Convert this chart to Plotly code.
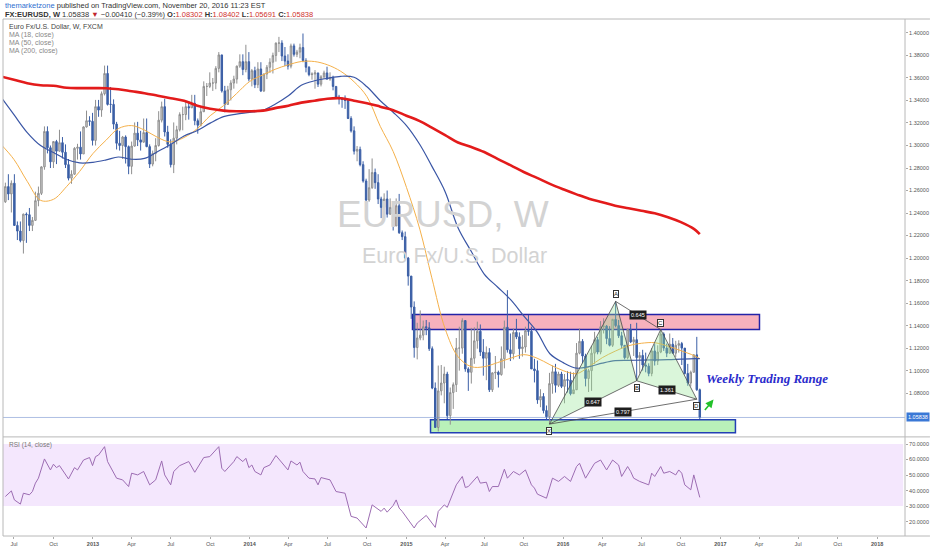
"""
EURUSD weekly chart (TradingView style) with MA(18/50/200), RSI(14),
range boxes and a harmonic XABCD pattern.
"""
import pandas as pd
import plotly.graph_objects as go

# ---------------------------------------------------------------- data
# weekly bars, week starting on Monday
bar_start = "2012-06-11"
bar_count = 232
first_open = 1.2500

closes = [
    # 2012
    1.2635, 1.2570, 1.2665, 1.2290, 1.2240, 1.2155, 1.2390, 1.2385, 1.2290, 1.2335,
    1.2510, 1.2575, 1.2810, 1.3125, 1.2980, 1.2855, 1.3035, 1.2950, 1.3025, 1.2940,
    1.2830, 1.2710, 1.2745, 1.2975, 1.2985, 1.2925, 1.3165, 1.3220, 1.3215, 1.3045,
    # 2013
    1.3345, 1.3315, 1.3460, 1.3640, 1.3365, 1.3365, 1.3190, 1.3020, 1.3000, 1.3075,
    1.2990, 1.2815, 1.2995, 1.3110, 1.3050, 1.3030, 1.3115, 1.2990, 1.2835, 1.2930,
    1.3000, 1.3225, 1.3345, 1.3120, 1.3010, 1.2830, 1.3065, 1.3140, 1.3275, 1.3275,
    1.3345, 1.3335, 1.3375, 1.3220, 1.3180, 1.3300, 1.3525, 1.3525, 1.3555, 1.3555,
    1.3685, 1.3805, 1.3485, 1.3365, 1.3495, 1.3555, 1.3590, 1.3705, 1.3745, 1.3675,
    1.3745, 1.3590,
    # 2014
    1.3665, 1.3540, 1.3680, 1.3485, 1.3635, 1.3695, 1.3740, 1.3800, 1.3910, 1.3910,
    1.3795, 1.3750, 1.3705, 1.3885, 1.3810, 1.3830, 1.3870, 1.3755, 1.3695, 1.3630,
    1.3635, 1.3645, 1.3545, 1.3610, 1.3645, 1.3590, 1.3605, 1.3525, 1.3430, 1.3415,
    1.3410, 1.3400, 1.3240, 1.3130, 1.2950, 1.2965, 1.2830, 1.2685, 1.2515, 1.2625,
    1.2760, 1.2670, 1.2525, 1.2450, 1.2525, 1.2390, 1.2450, 1.2285, 1.2465, 1.2225,
    1.2190, 1.2000,
    # 2015
    1.1840, 1.1565, 1.1205, 1.1290, 1.1315, 1.1390, 1.1380, 1.1195, 1.0845, 1.0495,
    1.0820, 1.0890, 1.0970, 1.0600, 1.0805, 1.0875, 1.1200, 1.1200, 1.1445, 1.1015,
    1.0985, 1.1110, 1.1265, 1.1350, 1.1165, 1.1110, 1.1160, 1.0830, 1.0980, 1.0985,
    1.0965, 1.1105, 1.1385, 1.1185, 1.1150, 1.1340, 1.1300, 1.1195, 1.1210, 1.1355,
    1.1350, 1.1015, 1.1000, 1.0740, 1.0770, 1.0645, 1.0590, 1.0885, 1.0990, 1.0870,
    1.0970, 1.0860,
    # 2016
    1.0920, 1.0915, 1.0795, 1.0830, 1.1155, 1.1260, 1.1130, 1.0930, 1.1000, 1.1155,
    1.1275, 1.1165, 1.1390, 1.1395, 1.1285, 1.1225, 1.1455, 1.1400, 1.1310, 1.1225,
    1.1115, 1.1365, 1.1255, 1.1275, 1.1115, 1.1135, 1.1050, 1.1040, 1.0975, 1.1175,
    1.1085, 1.1165, 1.1325, 1.1200, 1.1155, 1.1235, 1.1155, 1.1225, 1.1240, 1.1200,
    1.0975, 1.0890, 1.0985, 1.1140, 1.0830, 1.05838,
]

highs = [
    # 2012
    1.2670, 1.2745, 1.2690, 1.2745, 1.2325, 1.2325, 1.2395, 1.2405, 1.2445, 1.2365,
    1.2590, 1.2635, 1.2815, 1.3170, 1.3170, 1.3000, 1.3040, 1.3050, 1.3140, 1.3075,
    1.3010, 1.2880, 1.2780, 1.2985, 1.3015, 1.3125, 1.3170, 1.3310, 1.3260, 1.3290,
    # 2013
    1.3405, 1.3405, 1.3480, 1.3710, 1.3710, 1.3520, 1.3410, 1.3210, 1.3130, 1.3085,
    1.3090, 1.3000, 1.3035, 1.3205, 1.3210, 1.3130, 1.3240, 1.3240, 1.3010, 1.2955,
    1.3065, 1.3305, 1.3390, 1.3415, 1.3175, 1.3055, 1.3205, 1.3175, 1.3295, 1.3345,
    1.3400, 1.3395, 1.3450, 1.3450, 1.3240, 1.3350, 1.3570, 1.3555, 1.3650, 1.3600,
    1.3705, 1.3830, 1.3805, 1.3530, 1.3530, 1.3580, 1.3620, 1.3710, 1.3810, 1.3810,
    1.3895, 1.3830,
    # 2014
    1.3680, 1.3700, 1.3740, 1.3740, 1.3640, 1.3715, 1.3775, 1.3825, 1.3915, 1.3965,
    1.3935, 1.3875, 1.3810, 1.3905, 1.3905, 1.3850, 1.3905, 1.3995, 1.3775, 1.3705,
    1.3650, 1.3670, 1.3645, 1.3625, 1.3665, 1.3700, 1.3650, 1.3620, 1.3525, 1.3450,
    1.3430, 1.3445, 1.3410, 1.3260, 1.3170, 1.2995, 1.2990, 1.2860, 1.2705, 1.2790,
    1.2885, 1.2795, 1.2745, 1.2545, 1.2575, 1.2600, 1.2530, 1.2455, 1.2530, 1.2570,
    1.2245, 1.2235,
    # 2015
    1.2010, 1.1840, 1.1615, 1.1425, 1.1535, 1.1445, 1.1450, 1.1430, 1.1215, 1.0895,
    1.1045, 1.1050, 1.1035, 1.0990, 1.0850, 1.0895, 1.1290, 1.1390, 1.1465, 1.1445,
    1.1030, 1.1380, 1.1385, 1.1435, 1.1410, 1.1280, 1.1215, 1.1200, 1.0985, 1.1130,
    1.1000, 1.1215, 1.1445, 1.1715, 1.1330, 1.1375, 1.1460, 1.1340, 1.1315, 1.1390,
    1.1495, 1.1390, 1.1105, 1.1090, 1.0835, 1.0800, 1.0690, 1.0980, 1.1045, 1.1060,
    1.0990, 1.0990,
    # 2016
    1.0970, 1.0995, 1.0990, 1.0985, 1.1245, 1.1375, 1.1280, 1.1150, 1.1015, 1.1220,
    1.1345, 1.1300, 1.1440, 1.1465, 1.1405, 1.1395, 1.1460, 1.1615, 1.1450, 1.1345,
    1.1225, 1.1375, 1.1415, 1.1300, 1.1425, 1.1165, 1.1185, 1.1160, 1.1065, 1.1200,
    1.1235, 1.1225, 1.1365, 1.1340, 1.1240, 1.1330, 1.1290, 1.1265, 1.1270, 1.1255,
    1.1200, 1.1060, 1.1000, 1.1145, 1.1300, 1.08402,
]

lows = [
    # 2012
    1.2490, 1.2515, 1.2405, 1.2285, 1.2160, 1.2140, 1.2040, 1.2135, 1.2240, 1.2240,
    1.2330, 1.2460, 1.2560, 1.2785, 1.2930, 1.2800, 1.2800, 1.2835, 1.2945, 1.2885,
    1.2800, 1.2690, 1.2660, 1.2740, 1.2875, 1.2875, 1.2925, 1.3160, 1.3175, 1.3000,
    # 2013
    1.3000, 1.3255, 1.3255, 1.3445, 1.3355, 1.3290, 1.3145, 1.2965, 1.2955, 1.2880,
    1.2840, 1.2745, 1.2745, 1.2990, 1.2995, 1.2955, 1.3025, 1.2985, 1.2800, 1.2815,
    1.2860, 1.2990, 1.3205, 1.3080, 1.2980, 1.2805, 1.2755, 1.3010, 1.3125, 1.3135,
    1.3225, 1.3230, 1.3335, 1.3180, 1.3105, 1.3170, 1.3300, 1.3440, 1.3510, 1.3485,
    1.3500, 1.3650, 1.3470, 1.3295, 1.3360, 1.3400, 1.3505, 1.3550, 1.3690, 1.3625,
    1.3650, 1.3570,
    # 2014
    1.3525, 1.3510, 1.3510, 1.3475, 1.3475, 1.3590, 1.3645, 1.3640, 1.3745, 1.3830,
    1.3750, 1.3705, 1.3675, 1.3685, 1.3790, 1.3785, 1.3775, 1.3740, 1.3650, 1.3615,
    1.3585, 1.3505, 1.3520, 1.3525, 1.3590, 1.3585, 1.3575, 1.3490, 1.3420, 1.3365,
    1.3335, 1.3325, 1.3235, 1.3115, 1.2920, 1.2860, 1.2815, 1.2670, 1.2500, 1.2500,
    1.2615, 1.2615, 1.2480, 1.2355, 1.2395, 1.2360, 1.2385, 1.2245, 1.2285, 1.2215,
    1.2160, 1.1995,
    # 2015
    1.1755, 1.1460, 1.1115, 1.1100, 1.1270, 1.1270, 1.1315, 1.1175, 1.0835, 1.0495,
    1.0460, 1.0780, 1.0710, 1.0570, 1.0520, 1.0660, 1.0810, 1.1000, 1.1150, 1.0990,
    1.0820, 1.0885, 1.1060, 1.1195, 1.1130, 1.0955, 1.0915, 1.0810, 1.0810, 1.0925,
    1.0850, 1.0955, 1.1020, 1.1160, 1.1085, 1.1100, 1.1280, 1.1105, 1.1125, 1.1160,
    1.1310, 1.1015, 1.0895, 1.0705, 1.0675, 1.0620, 1.0565, 1.0525, 1.0795, 1.0805,
    1.0855, 1.0845,
    # 2016
    1.0710, 1.0805, 1.0780, 1.0810, 1.0835, 1.1145, 1.1065, 1.0860, 1.0810, 1.0820,
    1.1060, 1.1145, 1.1145, 1.1330, 1.1235, 1.1215, 1.1210, 1.1385, 1.1290, 1.1195,
    1.1100, 1.1100, 1.1245, 1.1130, 1.0910, 1.0975, 1.1000, 1.0985, 1.0950, 1.0950,
    1.1045, 1.1050, 1.1155, 1.1175, 1.1120, 1.1150, 1.1150, 1.1120, 1.1160, 1.1050,
    1.0965, 1.0865, 1.0860, 1.0985, 1.0820, 1.05691,
]

# moving averages, one value per month
ma_dates = [
    "2012-06-01", "2012-07-01", "2012-08-01", "2012-09-01", "2012-10-01", "2012-11-01", "2012-12-01",
    "2013-01-01", "2013-02-01", "2013-03-01", "2013-04-01", "2013-05-01", "2013-06-01",
    "2013-07-01", "2013-08-01", "2013-09-01", "2013-10-01", "2013-11-01", "2013-12-01",
    "2014-01-01", "2014-02-01", "2014-03-01", "2014-04-01", "2014-05-01", "2014-06-01",
    "2014-07-01", "2014-08-01", "2014-09-01", "2014-10-01", "2014-11-01", "2014-12-01",
    "2015-01-01", "2015-02-01", "2015-03-01", "2015-04-01", "2015-05-01", "2015-06-01",
    "2015-07-01", "2015-08-01", "2015-09-01", "2015-10-01", "2015-11-01", "2015-12-01",
    "2016-01-01", "2016-02-01", "2016-03-01", "2016-04-01", "2016-05-01", "2016-06-01",
    "2016-07-01", "2016-08-01", "2016-09-01", "2016-10-01", "2016-11-01", "2016-11-14",
]
ma18 = [
    1.3009, 1.2876, 1.2681, 1.2513, 1.2522, 1.2637, 1.2770,
    1.2929, 1.3049, 1.3150, 1.3177, 1.3137, 1.3071, 1.3031, 1.3071, 1.3150, 1.3265, 1.3354, 1.3460,
    1.3569, 1.3628, 1.3677, 1.3717, 1.3746, 1.3746, 1.3717, 1.3659, 1.3566, 1.3434, 1.3170, 1.2947,
    1.2628, 1.2257, 1.1825, 1.1372, 1.1124, 1.1035, 1.1035, 1.1071, 1.1111, 1.1142, 1.1111, 1.1053,
    1.1000, 1.0973, 1.1035, 1.1115, 1.1173, 1.1221, 1.1243, 1.1248, 1.1217, 1.1177, 1.1133,
    1.1106,
]
ma50 = [
    1.3429, 1.3274, 1.3115, 1.3000, 1.2938, 1.2876, 1.2845,
    1.2850, 1.2872, 1.2898, 1.2878, 1.2885, 1.2947, 1.3009, 1.3084, 1.3133, 1.3199, 1.3257, 1.3279,
    1.3295, 1.3314, 1.3367, 1.3442, 1.3535, 1.3575, 1.3597, 1.3615, 1.3606, 1.3522, 1.3398, 1.3296,
    1.3177, 1.3009, 1.2817, 1.2590, 1.2270, 1.2058, 1.1858, 1.1743, 1.1628, 1.1487, 1.1345, 1.1150,
    1.1071, 1.1022, 1.1035, 1.1066, 1.1088, 1.1091, 1.1093, 1.1096, 1.1097, 1.1102, 1.1106,
    1.1106,
]
ma200 = [
    1.3613, 1.3584, 1.3553, 1.3535, 1.3531, 1.3513, 1.3510,
    1.3510, 1.3509, 1.3500, 1.3482, 1.3465, 1.3442, 1.3420, 1.3398, 1.3354, 1.3327, 1.3310, 1.3304,
    1.3304, 1.3310, 1.3332, 1.3354, 1.3381, 1.3398, 1.3416, 1.3420, 1.3398, 1.3376, 1.3345, 1.3314,
    1.3265, 1.3217, 1.3159, 1.3093, 1.3027, 1.2987, 1.2942, 1.2881, 1.2823, 1.2765, 1.2712, 1.2659,
    1.2611, 1.2566, 1.2527, 1.2496, 1.2465, 1.2442, 1.2420, 1.2398, 1.2363, 1.2319, 1.2257,
    1.2212,
]

# RSI(14) readings: bar index and value
rsi_week = [
    0, 1, 2, 3, 5, 6, 8, 9, 10, 11, 13, 15, 16, 17, 18, 21, 23, 24, 26, 28,
    29, 30, 31, 33, 34, 37, 39, 41, 42, 44, 46, 48, 50, 52, 53, 55, 56, 58, 61, 63,
    66, 68, 69, 71, 72, 73, 76, 77, 79, 80, 81, 82, 83, 85, 86, 88, 90, 93, 94, 95,
    97, 98, 99, 101, 103, 104, 105, 108, 110, 113, 115, 117, 120, 122, 125, 126, 127, 129, 130, 131,
    132, 136, 137, 140, 143, 144, 146, 147, 148, 150, 152, 153, 154, 155, 157, 158, 160, 161, 162, 164,
    166, 167, 169, 171, 173, 175, 176, 177, 180, 182, 184, 186, 188, 190, 191, 193, 195, 196, 198, 200,
    202, 204, 205, 207, 208, 209, 211, 214, 215, 216, 218, 219, 221, 223, 224, 225, 226, 228, 229, 231,
]
rsi_value = [
    36.2, 38.3, 39.8, 34.0, 31.3, 38.3, 37.3, 39.4, 44.8, 48.0, 60.4, 53.3, 57.0, 54.8, 56.1, 47.5, 54.8, 53.3, 59.7, 61.3,
    56.1, 61.9, 62.9, 68.3, 58.7, 48.0, 46.9, 42.6, 51.2, 50.1, 52.3, 43.7, 46.9, 59.1, 50.1, 43.7, 52.3, 56.1, 58.7, 51.8,
    61.3, 61.9, 64.0, 68.3, 54.4, 52.3, 58.7, 61.9, 58.7, 60.8, 54.8, 56.5, 52.3, 50.1, 54.8, 56.5, 62.6, 55.5, 53.3, 59.1,
    56.5, 58.3, 52.3, 48.0, 47.5, 43.7, 48.4, 46.9, 39.4, 38.3, 23.4, 22.3, 15.9, 30.8, 26.6, 28.7, 26.1, 30.4, 34.0, 28.7,
    26.6, 15.9, 19.1, 24.0, 16.3, 26.6, 30.8, 29.2, 34.0, 43.7, 49.1, 42.0, 42.6, 44.8, 49.1, 44.8, 45.4, 39.4, 42.6, 42.6,
    53.8, 48.0, 52.3, 50.1, 53.3, 43.7, 41.6, 37.7, 35.1, 48.0, 45.9, 49.1, 45.9, 55.5, 57.6, 48.0, 54.4, 57.6, 59.7, 53.3,
    59.7, 56.5, 49.1, 55.5, 52.3, 48.0, 45.9, 43.7, 51.2, 49.1, 55.5, 51.2, 52.3, 50.1, 53.3, 51.2, 43.7, 40.5, 50.1, 35.6,
]

# harmonic pattern pivots
pattern_names = ["X", "A", "B", "C", "D"]
pattern_dates = ["2015-11-30", "2016-05-02", "2016-06-20", "2016-08-15", "2016-11-07"]
pattern_prices = [1.0525, 1.1615, 1.0910, 1.1365, 1.0746]
pattern_ratios = {("X", "B"): "0.647", ("A", "C"): "0.645",
                  ("B", "D"): "1.361", ("X", "D"): "0.797"}

last_price = 1.05838
price_ticks = [1.08, 1.10, 1.12, 1.14, 1.16, 1.18, 1.20, 1.22, 1.24, 1.26,
               1.28, 1.30, 1.32, 1.34, 1.36, 1.38, 1.40]
rsi_ticks = [20, 30, 40, 50, 60, 70]
month_labels = ["Jul", "Oct",
                "2013", "Apr", "Jul", "Oct", "2014", "Apr", "Jul", "Oct",
                "2015", "Apr", "Jul", "Oct", "2016", "Apr", "Jul", "Oct",
                "2017", "Apr", "Jul", "Oct", "2018"]

FONT = "Liberation Sans, Arial, sans-serif"


def build_figure():
    """ Builds the two pane (price + RSI) chart. """
    dates = pd.date_range(bar_start, periods=bar_count, freq="W-MON")
    opens = [first_open] + closes[:-1]
    fig = go.Figure()

    # candles
    fig.add_trace(go.Candlestick(
        x=dates, open=opens, high=highs, low=lows, close=closes,
        increasing=dict(line=dict(color="#8f8f8f", width=1), fillcolor="#d4d4d4"),
        decreasing=dict(line=dict(color="#3b5fa6", width=1), fillcolor="#3b5fa6"),
        whiskerwidth=0, showlegend=False, hoverinfo="skip",
        xaxis="x", yaxis="y"))

    # moving averages
    for vals, color, width in ((ma18, "#f4b04a", 1), (ma50, "#3a56a5", 1.2),
                               (ma200, "#e31b1b", 2.6)):
        fig.add_trace(go.Scatter(x=ma_dates, y=vals, mode="lines",
                                 line=dict(color=color, width=width, shape="spline"),
                                 showlegend=False, hoverinfo="skip",
                                 xaxis="x", yaxis="y"))

    # harmonic pattern
    pts = {n: (pd.Timestamp(d), p) for n, d, p in zip(pattern_names, pattern_dates, pattern_prices)}
    for tri in (("X", "A", "B"), ("B", "C", "D")):
        fig.add_trace(go.Scatter(
            x=[pts[n][0] for n in tri + (tri[0],)], y=[pts[n][1] for n in tri + (tri[0],)],
            mode="lines", fill="toself", fillcolor="rgba(150,230,150,0.35)",
            line=dict(color="#4a4a4a", width=0.8), showlegend=False, hoverinfo="skip",
            xaxis="x", yaxis="y"))
    for a, b in (("A", "C"), ("X", "D")):
        fig.add_trace(go.Scatter(
            x=[pts[a][0], pts[b][0]], y=[pts[a][1], pts[b][1]], mode="lines",
            line=dict(color="#4a4a4a", width=0.8), showlegend=False, hoverinfo="skip",
            xaxis="x", yaxis="y"))

    # RSI
    fig.add_trace(go.Scatter(
        x=[dates[k] for k in rsi_week], y=rsi_value, mode="lines",
        line=dict(color="#9c6cb2", width=1), showlegend=False, hoverinfo="skip",
        xaxis="x2", yaxis="y2"))

    shapes = [
        # RSI 30-70 band
        dict(type="rect", xref="paper", yref="y2", x0=0, x1=0.998, y0=30, y1=70,
             fillcolor="#f4e7fd", line=dict(width=0), layer="below"),
        # resistance and support zones
        dict(type="rect", xref="x", yref="y", x0="2015-01-15", x1="2017-04-02",
             y0=1.1366, y1=1.1498, fillcolor="#f7b1bd",
             line=dict(color="#2323a8", width=1.5), layer="below"),
        dict(type="rect", xref="x", yref="y", x0="2015-02-26", x1="2017-02-05",
             y0=1.0449, y1=1.0564, fillcolor="#b9f1b9",
             line=dict(color="#2340b4", width=1.5), layer="below"),
        # last price line
        dict(type="line", xref="paper", yref="y", x0=0, x1=1, y0=last_price, y1=last_price,
             line=dict(color="rgba(110,140,205,0.55)", width=1)),
    ]
    # pane frames
    frame = dict(color="#b8b8b8", width=1)
    right = 1 + 25 / 904
    shapes += [
        dict(type="line", xref="paper", yref="paper", x0=0, x1=right, y0=1, y1=1, line=frame),
        dict(type="line", xref="paper", yref="paper", x0=0, x1=right, y0=0, y1=0, line=frame),
        dict(type="line", xref="paper", yref="paper", x0=0, x1=right, y0=0.1917, y1=0.1917, line=frame),
        dict(type="line", xref="paper", yref="paper", x0=0, x1=0, y0=0, y1=1, line=frame),
        dict(type="line", xref="paper", yref="paper", x0=1, x1=1, y0=0, y1=1, line=frame),
    ]

    annotations = []

    def note(text, x, y, size=7, color="#444", xanchor="left", **kw):
        annotations.append(dict(text=text, x=x, y=y, xref=kw.pop("xref", "paper"),
                                yref=kw.pop("yref", "paper"), showarrow=False,
                                xanchor=xanchor, yanchor=kw.pop("yanchor", "middle"),
                                font=dict(family=kw.pop("family", FONT), size=size, color=color),
                                **kw))

    # header
    note("<span style='color:#2f6fd0'>themarketzone</span> published on TradingView.com, "
         "November 20, 2016 11:23 EST", 0.0, 1.027, size=7.5, color="#333")
    note("<b>FX:EURUSD, W</b> 1.05838 <span style='color:#c0262d'>▼</span> "
         "−0.00410 (−0.39%) <b>O:</b><span style='color:#d0312d'>1.08302</span> "
         "<b>H:</b><span style='color:#d0312d'>1.08402</span> "
         "<b>L:</b><span style='color:#d0312d'>1.05691</span> "
         "<b>C:</b><span style='color:#d0312d'>1.05838</span>",
         0.0, 1.0096, size=7.5, color="#333")

    # pane legends
    note("Euro Fx/U.S. Dollar, W, FXCM", 0.004, 0.9846, size=7, color="#444")
    note("MA (18, close)", 0.004, 0.9692, size=7, color="#888")
    note("MA (50, close)", 0.004, 0.9538, size=7, color="#888")
    note("MA (200, close)", 0.004, 0.9390, size=7, color="#888")
    note("RSI (14, close)", 0.004, 0.1753, size=6.5, color="#777")

    # watermark
    note("EURUSD, W", 0.488, 0.6224, size=37, color="#d3d3d3", xanchor="center")
    note("Euro Fx/U.S. Dollar", 0.5006, 0.5414, size=21.5, color="#d3d3d3", xanchor="center")

    # pattern letters and ratios
    for n in pattern_names:
        d, p = pts[n]
        up = n in ("A", "C")
        note(n, d, p, size=6, color="#222", xanchor="center", xref="x", yref="y",
             yshift=7 if up else -7, bgcolor="white", bordercolor="#333",
             borderwidth=1, borderpad=0)
    for (a, b), txt in pattern_ratios.items():
        mid_x = pts[a][0] + (pts[b][0] - pts[a][0]) / 2
        mid_y = (pts[a][1] + pts[b][1]) / 2
        note(txt, mid_x, mid_y, size=5.5, color="white", xanchor="center",
             xref="x", yref="y", bgcolor="#1e1e1e", borderpad=1)

    # trading range caption and arrow
    note("<b><i>Weekly Trading Range</i></b>", "2016-11-23", 1.0929, size=13,
         color="#2b2bcc", xref="x", yref="y",
         family="Liberation Serif, Times New Roman, serif")
    annotations.append(dict(x="2016-12-16", y=1.0743, ax="2016-11-23", ay=1.0637,
                            xref="x", yref="y", axref="x", ayref="y", text="",
                            showarrow=True, arrowhead=2, arrowsize=1, arrowwidth=1.6,
                            arrowcolor="#22c12a"))

    # last price label on the axis
    note("1.05838", 1.001, last_price, size=5.5, color="white", xref="paper", yref="y",
         bgcolor="#3a78d6", borderpad=1)

    tick_dates = pd.date_range("2012-07-01", "2018-01-01", freq="QS-JAN")
    tick_text = ["<b>%s</b>" % t if t.isdigit() else t for t in month_labels]
    x_range = ["2012-06-05 12:00", "2018-03-06 20:00"]
    axis_font = dict(family=FONT, size=5.5, color="#555")

    fig.update_layout(
        width=932, height=550,
        margin=dict(l=3, r=25, t=19, b=12),
        paper_bgcolor="white", plot_bgcolor="white",
        showlegend=False,
        shapes=shapes, annotations=annotations,
        xaxis=dict(domain=[0, 1], anchor="y", range=x_range, showticklabels=False,
                   showgrid=False, zeroline=False, rangeslider=dict(visible=False)),
        yaxis=dict(domain=[0.1927, 1], anchor="x", side="right", range=[1.04159, 1.41239],
                   tickvals=price_ticks, ticktext=["%.5f" % v for v in price_ticks],
                   ticks="outside", ticklen=2, tickcolor="#aaa", tickfont=axis_font,
                   showgrid=False, zeroline=False),
        xaxis2=dict(domain=[0, 1], anchor="y2", matches="x", range=x_range,
                    tickvals=tick_dates, ticktext=tick_text, ticks="outside", ticklen=2,
                    tickcolor="#aaa", tickfont=axis_font, showgrid=False, zeroline=False),
        yaxis2=dict(domain=[0, 0.1908], anchor="x2", side="right", range=[10.74, 74.3],
                    tickvals=rsi_ticks, ticktext=["%.4f" % v for v in rsi_ticks],
                    ticks="outside", ticklen=2, tickcolor="#aaa", tickfont=axis_font,
                    showgrid=False, zeroline=False),
    )
    return fig


def main():
    """ Creates the chart and saves it as html. """
    fig = build_figure()
    # the page body has a default 8px margin; drop it so the chart sits at 0,0
    fig.write_html("out.html", config={"displayModeBar": False},
                   post_script="document.body.style.margin = '0px';")


if __name__ == "__main__":
    main()
